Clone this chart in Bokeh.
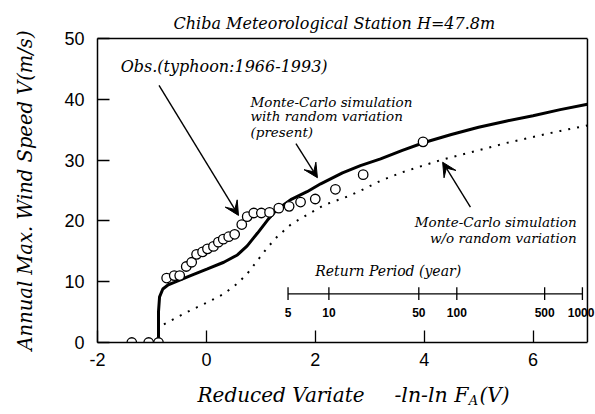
import math
from bokeh.plotting import figure
from bokeh.layouts import column
from bokeh.models import Label, Arrow, VeeHead, Range1d, LinearAxis, FixedTicker, Span
from bokeh.core.properties import value
from bokeh.embed import file_html
from bokeh.resources import INLINE

# ---------------- data ----------------
obs_x = [-1.37, -1.06, -0.88, -0.73, -0.59, -0.49, -0.37, -0.27, -0.18, -0.07,
         0.02, 0.13, 0.22, 0.31, 0.41, 0.52, 0.65, 0.75, 0.87, 1.01,
         1.16, 1.33, 1.52, 1.73, 2.00, 2.37, 2.88, 3.98]
obs_y = [0.0, 0.0, 0.0, 10.6, 11.0, 11.0, 12.5, 13.2, 14.5, 14.9,
         15.4, 15.8, 16.5, 17.0, 17.4, 17.8, 19.4, 20.7, 21.3, 21.3,
         21.4, 22.1, 22.4, 23.1, 23.6, 25.2, 27.6, 33.0]

mc_rand_x = [-0.88, -0.88, -0.86, -0.80, -0.70, -0.59, -0.29, 0.02, 0.32, 0.57,
             0.75, 0.94, 1.12, 1.30, 1.55, 1.85, 2.10, 2.50, 2.83, 3.20,
             3.60, 4.00, 4.50, 5.00, 5.50, 6.00, 6.50, 7.00]
mc_rand_y = [0.0, 5.0, 7.5, 8.8, 9.5, 9.9, 11.0, 12.1, 13.2, 14.4,
             15.9, 18.0, 20.1, 21.9, 23.5, 24.8, 26.1, 27.9, 29.1, 30.2,
             31.6, 32.9, 34.2, 35.4, 36.4, 37.3, 38.3, 39.2]

mc_norand_x = [-0.78, -0.53, -0.29, 0.02, 0.32, 0.57, 0.75, 0.94, 1.12, 1.30,
               1.55, 1.85, 2.16, 2.59, 2.84, 3.20, 3.60, 4.30, 5.00, 5.50,
               6.00, 6.50, 7.00]
mc_norand_y = [3.0, 4.2, 5.3, 6.6, 8.0, 9.7, 11.3, 13.5, 15.6, 17.4,
               19.4, 21.0, 22.6, 24.0, 25.0, 26.6, 28.0, 30.0, 31.6, 32.8,
               33.8, 34.8, 35.7]

x_ticks = [-2, 0, 2, 4, 6]
x_tick_labels = {-2: "-2", 0: "0", 2: "2", 4: "4", 6: "6"}
y_ticks = [0, 10, 20, 30, 40, 50]
return_periods = [5, 10, 50, 100, 500, 1000]
return_labels = ["5", "10", "50", "100", "500", "1000"]

SERIF = "DejaVu Serif"
SANS = "Liberation Sans"
X_MIN, X_MAX, X_VIEW = -2, 7, 7.1476

p = figure(frame_width=498, frame_height=304,
           x_range=Range1d(X_MIN, X_VIEW), y_range=Range1d(0, 50),
           output_backend="svg", toolbar_location=None,
           min_border_left=97, min_border_right=0,
           min_border_top=38, min_border_bottom=34)

p.title.text = "Chiba Meteorological Station H=47.8m"
p.title.text_font = SERIF
p.title.text_font_style = "italic"
p.title.text_font_size = "16px"
p.title.align = "left"
p.title.offset = 76
p.title.standoff = 11
p.title.text_color = "black"

p.xgrid.visible = False
p.ygrid.visible = False
p.outline_line_color = None
p.background_fill_color = "white"
p.border_fill_color = "white"

for ax in (p.xaxis, p.yaxis):
    ax.major_tick_in = 12
    ax.major_tick_out = 0
    ax.minor_tick_line_color = None
    ax.axis_line_width = 1.5
    ax.major_tick_line_width = 1.3
    ax.major_label_text_font = SANS
    ax.major_label_text_font_size = "18px"
    ax.major_label_text_color = "black"
    ax.axis_line_color = "black"
    ax.major_tick_line_color = "black"

p.xaxis.ticker = x_ticks
p.xaxis.major_label_overrides = x_tick_labels
p.xaxis.bounds = (X_MIN, X_MAX)
p.yaxis.ticker = y_ticks
p.xaxis.major_label_standoff = 10
p.yaxis.major_label_standoff = 13

p.yaxis.axis_label = "Annual Max. Wind Speed V(m/s)"
p.yaxis.axis_label_text_font = SERIF
p.yaxis.axis_label_text_font_style = "italic"
p.yaxis.axis_label_text_font_size = "19.5px"
p.yaxis.axis_label_text_color = "black"
p.yaxis.axis_label_standoff = 24

# top border of the frame (axis without ticks) and right border
top = LinearAxis(ticker=FixedTicker(ticks=[]), bounds=(X_MIN, X_MAX),
                 axis_line_width=1.5, axis_line_color="black",
                 major_label_text_font_size="0px", major_tick_line_color=None,
                 minor_tick_line_color=None)
p.add_layout(top, "above")
p.add_layout(Span(location=X_MAX, dimension="height", line_color="black", line_width=1.5))

# curves
p.line(mc_norand_x, mc_norand_y, line_color="black", line_width=2, line_dash="2 7")
p.line(mc_rand_x, mc_rand_y, line_color="black", line_width=3)
p.scatter(obs_x, obs_y, size=9.5, fill_color="white", line_color="black", line_width=1.3)

# return period axis
rp_x = [-math.log(-math.log(1.0 - 1.0 / t)) for t in return_periods]
rp_y = 8.0
p.line([rp_x[0], rp_x[-1]], [rp_y, rp_y], line_color="black", line_width=1.3)
p.segment(x0=rp_x, y0=[7.0] * len(rp_x), x1=rp_x, y1=[9.1] * len(rp_x),
          line_color="black", line_width=1.3)
# last label kept inside the picture edge (right-aligned), the others centred on their ticks
rp_label_x = rp_x[:-1] + [X_VIEW - 0.02]
rp_label_align = ["center"] * (len(rp_x) - 1) + ["right"]
p.text(x=rp_label_x, y=[5.0] * len(rp_x), text=return_labels,
       text_align=rp_label_align, text_baseline="middle",
       text_font=value(SANS), text_font_style="bold",
       text_font_size="12px", text_color="black")


def lab(fig, x, y, txt, size, align="left", font=SERIF, style="italic"):
    fig.add_layout(Label(x=x, y=y, text=txt, text_font=font, text_font_style=style,
                         text_font_size=size, text_align=align, text_baseline="middle",
                         text_color="black"))


lab(p, -1.575, 45.4, "Obs.(typhoon:1966-1993)", "16px")
lab(p, 0.81, 39.6, "Monte-Carlo simulation", "13.5px")
lab(p, 0.81, 37.2, "with random variation", "13.5px")
lab(p, 0.81, 34.7, "(present)", "13.5px")
lab(p, 6.8, 19.9, "Monte-Carlo simulation", "13.5px", align="right")
lab(p, 6.8, 17.2, "w/o random variation", "13.5px", align="right")
lab(p, 3.34, 11.8, "Return Period (year)", "14px", align="center")

# arrows
for xs, ys, xe, ye in [(-0.87, 42.3, 0.59, 20.9),
                       (1.645, 32.7, 2.04, 27.1),
                       (4.85, 22.25, 4.34, 29.65)]:
    p.add_layout(Arrow(end=VeeHead(size=14, fill_color="black", line_color="black"),
                       x_start=xs, y_start=ys, x_end=xe, y_end=ye,
                       line_color="black", line_width=1.4))

# strip below the plot carrying the x-axis title (with its subscript)
pb = figure(frame_width=498, frame_height=36, x_range=p.x_range, y_range=Range1d(0, 36),
            x_axis_type=None, y_axis_type=None, output_backend="svg",
            toolbar_location=None, min_border_left=97, min_border_right=0,
            min_border_top=0, min_border_bottom=0)
pb.xgrid.visible = False
pb.ygrid.visible = False
pb.outline_line_color = None
pb.background_fill_color = "white"
pb.border_fill_color = "white"

lab(pb, -0.163, 18, "Reduced Variate", "20px")
lab(pb, 4.815, 18, "-ln-ln F", "20.5px", align="right")
lab(pb, 4.905, 12, "A", "13px", align="center")
lab(pb, 5.016, 18, "(V)", "20px")

layout = column(p, pb, spacing=0)
open("out.html", "w").write(file_html(layout, INLINE))
